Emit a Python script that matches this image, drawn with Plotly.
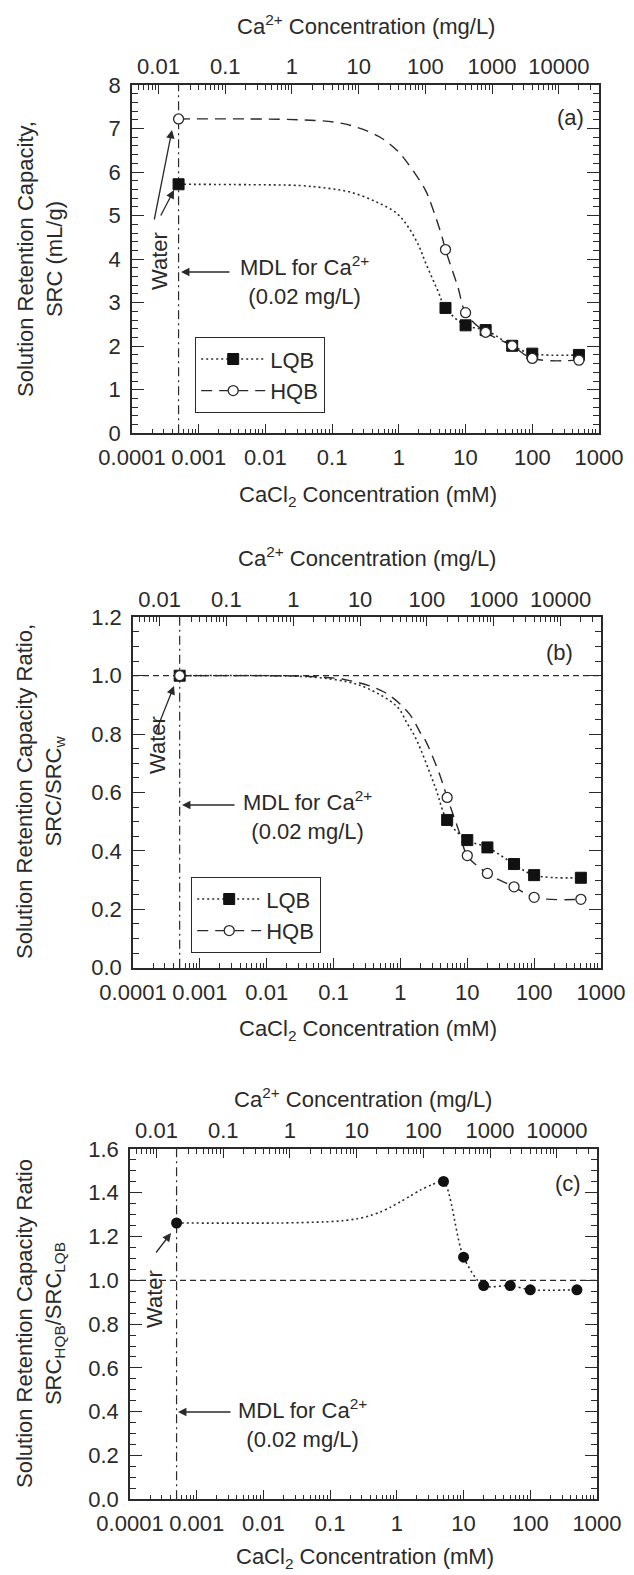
import math
import plotly.graph_objects as go

# ---------------- data ----------------
CA_PER_MM = 40.08          # mg/L Ca2+ per mM CaCl2
mdl_mgL = 0.02             # MDL for Ca2+
water_mM = mdl_mgL / CA_PER_MM   # water plotted at the MDL position

conc_mM = [water_mM, 5, 10, 20, 50, 100, 500]
src_lqb = [5.72, 2.88, 2.48, 2.37, 2.01, 1.83, 1.80]
src_hqb = [7.22, 4.22, 2.77, 2.32, 2.01, 1.72, 1.68]
ratio_lqb = [1.0, 0.506, 0.437, 0.412, 0.355, 0.317, 0.308]
ratio_hqb = [1.0, 0.583, 0.384, 0.323, 0.277, 0.241, 0.234]
ratio_hqb_lqb = [1.262, 1.452, 1.106, 0.976, 0.976, 0.957, 0.957]

# fitted curves
fit_a_lqb_x = [water_mM, 0.0059, 0.033, 0.083, 0.186, 0.468, 0.933, 1.38, 2.0, 2.51, 3.8, 5, 10, 20, 50, 100, 500]
fit_a_lqb_y = [5.72, 5.71, 5.69, 5.63, 5.54, 5.31, 5.05, 4.74, 4.30, 3.92, 3.29, 2.88, 2.48, 2.37, 2.01, 1.83, 1.80]
fit_a_hqb_x = [water_mM, 0.0059, 0.033, 0.105, 0.234, 0.525, 0.933, 1.32, 2.51, 3.09, 4.37, 5, 7.67, 10, 20, 50, 100, 500]
fit_a_hqb_y = [7.22, 7.22, 7.20, 7.15, 7.03, 6.80, 6.50, 6.23, 5.58, 5.24, 4.55, 4.22, 3.36, 2.77, 2.32, 2.01, 1.72, 1.68]

fit_b_lqb_x = [water_mM, 0.01, 0.05, 0.16, 0.32, 0.89, 1.26, 1.7, 3.3, 5, 10, 20, 50, 100, 500]
fit_b_lqb_y = [1.0, 1.0, 0.995, 0.979, 0.957, 0.894, 0.837, 0.785, 0.62, 0.506, 0.437, 0.412, 0.355, 0.317, 0.308]
fit_b_hqb_x = [water_mM, 0.01, 0.05, 0.16, 0.56, 1.34, 2.04, 2.34, 3.8, 5, 7.7, 10, 20, 50, 100, 500]
fit_b_hqb_y = [1.0, 1.0, 0.997, 0.985, 0.945, 0.871, 0.80, 0.78, 0.666, 0.583, 0.46, 0.384, 0.323, 0.277, 0.241, 0.234]

fit_c_x = [water_mM, 0.018, 0.079, 0.15, 0.25, 0.4, 0.56, 0.8, 1.12, 1.6, 2.24, 3.3, 5, 10, 20, 50, 100, 500]
fit_c_y = [1.262, 1.262, 1.267, 1.272, 1.281, 1.296, 1.312, 1.334, 1.358, 1.386, 1.412, 1.436, 1.452, 1.106, 0.976, 0.976, 0.957, 0.957]

# tick labels
bottom_tickvals = [1e-4, 1e-3, 1e-2, 1e-1, 1, 10, 100, 1000]
bottom_ticktext = ["0.0001", "0.001", "0.01", "0.1", "1", "10", "100", "1000"]
top_tickvals = [0.01, 0.1, 1, 10, 100, 1000, 10000]
top_ticktext = ["0.01", "0.1", "1", "10", "100", "1000", "10000"]

# ---------------- styling helpers ----------------
W, H = 634, 1575
INK = "#2a2a2a"
FONT = "Liberation Sans, Arial, sans-serif"
FS = 22

def X(px):
    return px / W

def Y(py):
    return 1 - py / H

bottom_minor = [m * 10.0 ** e for e in range(-4, 3) for m in range(2, 10)]
top_lo, top_hi = math.log10(1e-4 * CA_PER_MM), math.log10(1e3 * CA_PER_MM)
top_minor = [m * 10.0 ** e for e in range(-3, 5) for m in range(2, 10)
             if top_lo < math.log10(m * 10.0 ** e) < top_hi]

def x_bottom(dom, anchor):
    return dict(domain=dom, anchor=anchor, type="log", range=[-4, 3], automargin=False,
                tickmode="array", tickvals=bottom_tickvals, ticktext=bottom_ticktext,
                tickangle=0, ticks="inside", ticklen=10, tickwidth=1.2, tickcolor=INK,
                showline=True, linecolor=INK, linewidth=1.5, mirror=False,
                showgrid=False, zeroline=False, ticklabelstandoff=4,
                tickfont=dict(size=FS, color=INK),
                minor=dict(tickmode="array", tickvals=bottom_minor, ticks="inside",
                           ticklen=5, tickwidth=1, tickcolor=INK, showgrid=False))

def x_top(base, anchor):
    return dict(overlaying=base, anchor=anchor, side="top", type="log", automargin=False,
                range=[top_lo, top_hi], tickangle=0,
                tickmode="array", tickvals=top_tickvals, ticktext=top_ticktext,
                ticks="inside", ticklen=9, tickwidth=1.2, tickcolor=INK,
                showline=True, linecolor=INK, linewidth=1.5,
                showgrid=False, zeroline=False, ticklabelstandoff=0,
                tickfont=dict(size=FS, color=INK),
                minor=dict(tickmode="array", tickvals=top_minor, ticks="inside",
                           ticklen=5, tickwidth=1, tickcolor=INK, showgrid=False))

def y_axis(dom, anchor, rng, dtick, minor_dtick, fmt):
    return dict(domain=dom, anchor=anchor, range=rng, tickmode="linear", tick0=0,
                automargin=False,
                dtick=dtick, tickformat=fmt, ticks="inside", ticklen=12,
                tickwidth=1.2, tickcolor=INK, showline=True, linecolor=INK,
                linewidth=1.5, mirror="ticks", showgrid=False, zeroline=False,
                ticklabelstandoff=5, tickfont=dict(size=FS, color=INK),
                minor=dict(dtick=minor_dtick, tick0=0, ticks="inside", ticklen=6,
                           tickwidth=1, tickcolor=INK, showgrid=False))

# panel frames (pixels)
pa = dict(x=(132, 599), y=(85, 433.3))
pb = dict(x=(133, 601), y=(617.3, 967.7))
pc = dict(x=(130, 597), y=(1149, 1499.3))

def xdom(p):
    return [X(p["x"][0]), X(p["x"][1])]

def ydom(p):
    return [Y(p["y"][1]), Y(p["y"][0])]

fig = go.Figure()

DOT = dict(color=INK, width=1.6, dash="2px,3px", shape="spline", smoothing=1.0)
DASH = dict(color=INK, width=1.4, dash="11px,7px", shape="spline", smoothing=1.0)

def sq():
    return dict(symbol="square", size=11, color="#111111", line=dict(color="#111111", width=1))

def circ():
    return dict(symbol="circle", size=10, color="white", line=dict(color=INK, width=1.3))

# invisible traces so the top (mg/L) axes are drawn
for xa, ya in (("x2", "y"), ("x4", "y2"), ("x6", "y3")):
    fig.add_trace(go.Scatter(x=top_tickvals, y=[None] * len(top_tickvals), mode="markers",
                             xaxis=xa, yaxis=ya, showlegend=False, hoverinfo="skip"))

# ---- panel (a) ----
fig.add_trace(go.Scatter(x=fit_a_lqb_x, y=fit_a_lqb_y, mode="lines", line=DOT,
                         xaxis="x", yaxis="y", showlegend=False, hoverinfo="skip"))
fig.add_trace(go.Scatter(x=fit_a_hqb_x, y=fit_a_hqb_y, mode="lines", line=DASH,
                         xaxis="x", yaxis="y", showlegend=False, hoverinfo="skip"))
fig.add_trace(go.Scatter(x=conc_mM, y=src_lqb, mode="markers", marker=sq(),
                         xaxis="x", yaxis="y", showlegend=False))
fig.add_trace(go.Scatter(x=conc_mM, y=src_hqb, mode="markers", marker=circ(),
                         xaxis="x", yaxis="y", showlegend=False))
fig.add_trace(go.Scatter(x=[None], y=[None], mode="lines+markers", name="LQB",
                         line=dict(color=INK, width=1.6, dash="2px,3px"), marker=sq(),
                         xaxis="x", yaxis="y", legend="legend"))
fig.add_trace(go.Scatter(x=[None], y=[None], mode="lines+markers", name="HQB",
                         line=dict(color=INK, width=1.4, dash="11px,7px"), marker=circ(),
                         xaxis="x", yaxis="y", legend="legend"))

# ---- panel (b) ----
fig.add_trace(go.Scatter(x=fit_b_lqb_x, y=fit_b_lqb_y, mode="lines", line=DOT,
                         xaxis="x3", yaxis="y2", showlegend=False, hoverinfo="skip"))
fig.add_trace(go.Scatter(x=fit_b_hqb_x, y=fit_b_hqb_y, mode="lines", line=DASH,
                         xaxis="x3", yaxis="y2", showlegend=False, hoverinfo="skip"))
fig.add_trace(go.Scatter(x=conc_mM, y=ratio_lqb, mode="markers", marker=sq(),
                         xaxis="x3", yaxis="y2", showlegend=False))
fig.add_trace(go.Scatter(x=conc_mM, y=ratio_hqb, mode="markers", marker=circ(),
                         xaxis="x3", yaxis="y2", showlegend=False))
fig.add_trace(go.Scatter(x=[None], y=[None], mode="lines+markers", name="LQB",
                         line=dict(color=INK, width=1.6, dash="2px,3px"), marker=sq(),
                         xaxis="x3", yaxis="y2", legend="legend2"))
fig.add_trace(go.Scatter(x=[None], y=[None], mode="lines+markers", name="HQB",
                         line=dict(color=INK, width=1.4, dash="11px,7px"), marker=circ(),
                         xaxis="x3", yaxis="y2", legend="legend2"))

# ---- panel (c) ----
fig.add_trace(go.Scatter(x=fit_c_x, y=fit_c_y, mode="lines",
                         line=dict(color=INK, width=1.6, dash="2px,3px", shape="spline", smoothing=0.8),
                         xaxis="x5", yaxis="y3", showlegend=False, hoverinfo="skip"))
fig.add_trace(go.Scatter(x=conc_mM, y=ratio_hqb_lqb, mode="markers",
                         marker=dict(symbol="circle", size=11, color="#111111"),
                         xaxis="x5", yaxis="y3", showlegend=False))

# ---------------- reference lines ----------------
shapes = []
for xr, yr in (("x", "y"), ("x3", "y2"), ("x5", "y3")):
    shapes.append(dict(type="line", xref=xr, yref=yr + " domain", x0=water_mM, x1=water_mM,
                       y0=0, y1=1, line=dict(color=INK, width=1.2, dash="9px,4px,2px,4px"),
                       layer="below"))
for xr, yr in (("x3", "y2"), ("x5", "y3")):
    shapes.append(dict(type="line", xref=xr + " domain", yref=yr, x0=0, x1=1, y0=1.0, y1=1.0,
                       line=dict(color=INK, width=1.2, dash="6px,4px"), layer="below"))

# ---------------- annotations ----------------
ann = []

def text(px, py, s, xanchor="center", angle=0, size=FS):
    ann.append(dict(x=X(px), y=Y(py), xref="paper", yref="paper", text=s, showarrow=False,
                    xanchor=xanchor, yanchor="middle", textangle=angle,
                    font=dict(family=FONT, size=size, color=INK)))

def arrow(hx, hy, tx, ty):
    ann.append(dict(x=X(hx), y=Y(hy), xref="paper", yref="paper", text="", showarrow=True,
                    ax=tx - hx, ay=ty - hy, axref="pixel", ayref="pixel",
                    arrowhead=2, arrowsize=1.3, arrowwidth=1.3, arrowcolor=INK, standoff=0))

top_title = "Ca<sup>2+</sup> Concentration (mg/L)"
bot_title = "CaCl<sub>2</sub> Concentration (mM)"
mdl_text = "MDL for Ca<sup>2+</sup><br>(0.02 mg/L)"

# (a)
text(366, 25, top_title)
text(368, 496, bot_title)
text(40, 259, "Solution Retention Capacity,<br>SRC (mL/g)", angle=-90)
text(586, 117, "(a)", xanchor="right")
text(159, 261, "Water", angle=-90)
arrow(172, 130, 154, 221)
arrow(174, 190, 160, 217)
arrow(181, 272, 231, 272)
text(238, 281, mdl_text, xanchor="left")

# (b)
text(367, 557, top_title)
text(368, 1030, bot_title)
text(40, 792, "Solution Retention Capacity Ratio,<br>SRC/SRC<sub>w</sub>", angle=-90)
text(575, 652, "(b)", xanchor="right")
text(157, 745, "Water", angle=-90)
arrow(174, 686, 155, 734)
arrow(182, 805, 236, 805)
text(241, 816, mdl_text, xanchor="left")

# (c)
text(363, 1098, top_title)
text(365, 1558, bot_title)
text(40, 1324, "Solution Retention Capacity Ratio<br>SRC<sub>HQB</sub>/SRC<sub>LQB</sub>", angle=-90)
text(583, 1183, "(c)", xanchor="right")
text(154, 1299, "Water", angle=-90)
arrow(171, 1233, 155, 1254)
arrow(178, 1412, 232, 1412)
text(236, 1423, mdl_text, xanchor="left")

legend_common = dict(xanchor="left", yanchor="top", bgcolor="white", bordercolor=INK,
                     borderwidth=1.2, font=dict(family=FONT, size=FS, color=INK),
                     itemwidth=64, tracegroupgap=0)

fig.update_layout(
    width=W, height=H, margin=dict(l=0, r=0, t=0, b=0, autoexpand=False),
    paper_bgcolor="white", plot_bgcolor="white",
    font=dict(family=FONT, size=FS, color=INK),
    xaxis=x_bottom(xdom(pa), "y"),
    xaxis2=x_top("x", "y"),
    yaxis=y_axis(ydom(pa), "x", [0, 8], 1, 0.2, "d"),
    xaxis3=x_bottom(xdom(pb), "y2"),
    xaxis4=x_top("x3", "y2"),
    yaxis2=y_axis(ydom(pb), "x3", [0, 1.2], 0.2, 0.05, ".1f"),
    xaxis5=x_bottom(xdom(pc), "y3"),
    xaxis6=x_top("x5", "y3"),
    yaxis3=y_axis(ydom(pc), "x5", [0, 1.6], 0.2, 0.05, ".1f"),
    legend=dict(x=X(195), y=Y(337), **legend_common),
    legend2=dict(x=X(191), y=Y(877), **legend_common),
    shapes=shapes,
    annotations=ann,
)

fig.write_html("out.html")
